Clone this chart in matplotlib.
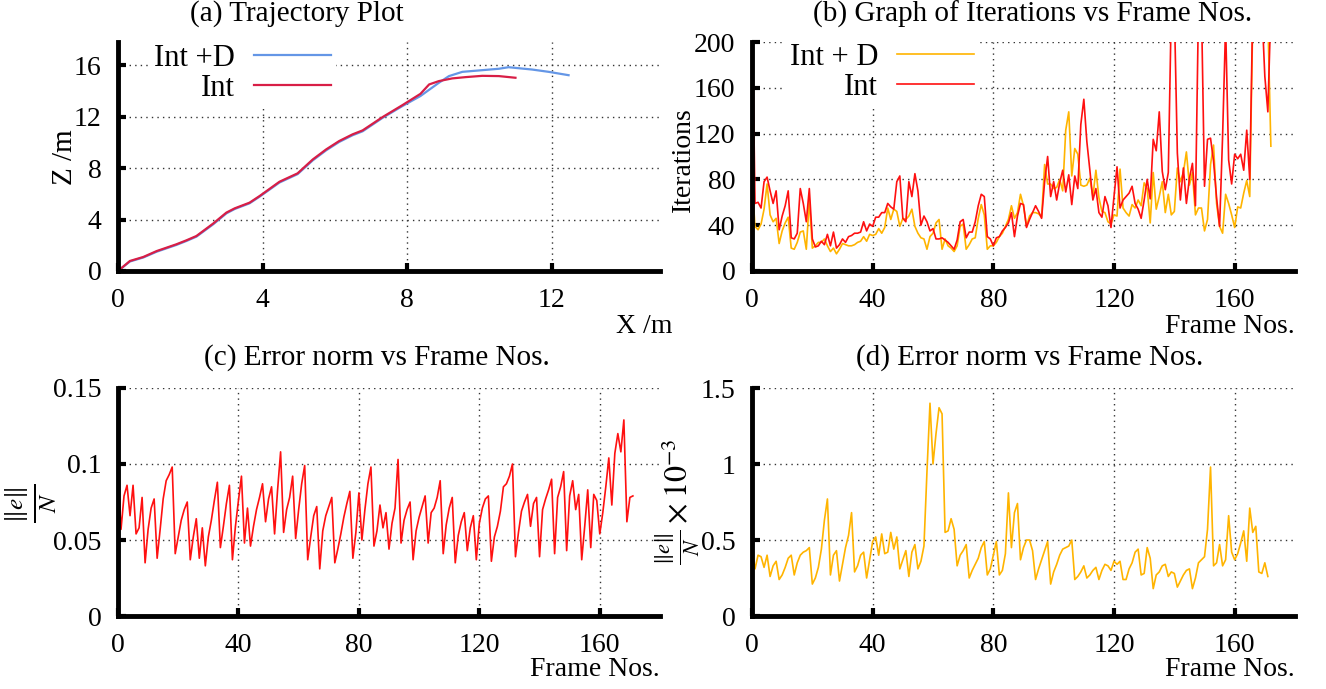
import numpy as np
import matplotlib
matplotlib.use("Agg")
import matplotlib.pyplot as plt

plt.rcParams['font.family'] = ['Liberation Serif', 'DejaVu Serif']
plt.rcParams['mathtext.fontset'] = 'stix'

# (a) trajectory, X and Z in metres
int_x = [0, 0.33, 0.70, 1.07, 1.61, 1.89, 2.17, 2.63, 3.0, 3.23, 3.64, 3.92, 4.47, 4.97,
         5.39, 5.76, 6.12, 6.49, 6.77, 7.32, 7.87, 8.37, 8.61, 8.88, 9.25, 9.62, 10.08,
         10.54, 11.0]
int_z = [0, 0.78, 1.09, 1.55, 2.07, 2.38, 2.72, 3.68, 4.54, 4.87, 5.31, 5.83, 6.94, 7.59,
         8.67, 9.45, 10.1, 10.62, 10.93, 11.96, 12.89, 13.77, 14.5, 14.76, 14.97, 15.07,
         15.17, 15.15, 15.02]
intd_x = [0, 0.33, 0.70, 1.07, 1.61, 1.89, 2.17, 2.63, 3.0, 3.23, 3.64, 3.92, 4.47, 4.97,
          5.39, 5.76, 6.12, 6.49, 6.77, 7.32, 7.87, 8.37, 8.88, 9.16, 9.53, 10.08, 10.54,
          10.81, 11.46, 11.92, 12.47]
intd_z = [0, 0.74, 1.05, 1.5, 2.02, 2.33, 2.67, 3.62, 4.48, 4.82, 5.26, 5.78, 6.88, 7.53,
          8.6, 9.38, 10.03, 10.55, 10.86, 11.9, 12.82, 13.6, 14.63, 15.15, 15.48, 15.61,
          15.72, 15.84, 15.66, 15.48, 15.22]

# (b) iterations per frame
iter_intd = [78, 39, 36, 41, 54, 76, 49, 43, 46, 24, 35, 42, 47, 20, 19, 25, 34, 35, 19, 62,
             20, 22, 25, 25, 28, 22, 17, 20, 15, 19, 24, 23, 22, 22, 23, 25, 26, 30, 26, 32,
             31, 32, 37, 33, 38, 55, 45, 54, 52, 39, 46, 45, 48, 54, 39, 33, 29, 28, 19, 30,
             33, 42, 45, 19, 28, 22, 20, 17, 22, 39, 41, 19, 23, 28, 29, 46, 58, 49, 19, 22,
             22, 25, 30, 33, 39, 45, 57,
             46, 51, 67, 57, 39, 48, 51, 51, 50, 47, 93, 76, 76, 72, 73, 80, 70, 123, 139, 83,
             107, 102, 75, 74, 75, 81, 65, 88, 64, 52, 51, 43, 41, 49, 48, 89, 55, 51, 48, 58,
             55, 62, 57, 77, 72, 42, 86, 54, 65, 78, 51, 67, 49, 52, 90, 78, 86, 104, 75, 86,
             49, 55, 55, 35, 45, 93, 110, 59, 39, 33, 67, 59, 49, 38, 56, 55, 68, 79, 65, 220,
             220, 220, 220, 220, 220, 109]
iter_int = [240, 59, 60, 55, 78, 82, 70, 59, 70, 36, 48, 57, 70, 29, 28, 33, 72, 59, 43, 72,
            28, 21, 22, 26, 23, 32, 22, 34, 20, 23, 28, 25, 30, 31, 33, 33, 34, 43, 35, 41,
            39, 47, 47, 51, 51, 59, 56, 54, 78, 83, 46, 43, 78, 65, 85, 70, 40, 48, 43, 35,
            37, 28, 28, 29, 27, 25, 22, 19, 27, 43, 45, 29, 34, 34, 43, 57, 67, 65, 30, 28,
            22, 29, 30, 35, 38, 42, 51,
            30, 48, 59, 58, 38, 45, 51, 57, 52, 46, 78, 100, 65, 78, 62, 77, 88, 69, 84, 58,
            83, 72, 128, 150, 113, 88, 62, 72, 51, 47, 65, 57, 38, 65, 91, 55, 62, 65, 68, 74,
            59, 54, 46, 62, 80, 63, 115, 105, 139, 87, 71, 86, 230, 230, 103, 62, 90, 59, 81, 94,
            57, 230, 230, 74, 115, 116, 96, 64, 39, 118, 215, 97, 76, 102, 98, 102, 88, 123, 80, 230,
            230, 230, 230, 170, 139, 230]

# (c) error norm, Int
err_int = [0.092, 0.057, 0.079, 0.086, 0.066, 0.086, 0.054, 0.058, 0.078, 0.035,
           0.057, 0.071, 0.077, 0.038, 0.057, 0.077, 0.089, 0.093, 0.098, 0.041,
           0.052, 0.063, 0.070, 0.075, 0.037, 0.052, 0.064, 0.038, 0.058, 0.033,
           0.052, 0.063, 0.076, 0.088, 0.045, 0.059, 0.074, 0.086, 0.037, 0.059,
           0.076, 0.092, 0.048, 0.071, 0.046, 0.059, 0.070, 0.078, 0.087, 0.062,
           0.077, 0.085, 0.054, 0.083, 0.108, 0.055, 0.070, 0.078, 0.092, 0.051,
           0.070, 0.087, 0.099, 0.037, 0.052, 0.066, 0.072, 0.031, 0.056, 0.066,
           0.072, 0.078, 0.035, 0.044, 0.054, 0.065, 0.074, 0.082, 0.038, 0.055,
           0.081, 0.050, 0.070, 0.087, 0.098, 0.046,
           0.056, 0.073, 0.058, 0.068, 0.044, 0.061, 0.071, 0.103, 0.048, 0.063,
           0.070, 0.075, 0.037, 0.056, 0.065, 0.072, 0.079, 0.048, 0.068, 0.071,
           0.078, 0.089, 0.041, 0.060, 0.071, 0.078, 0.035, 0.053, 0.062, 0.068,
           0.043, 0.058, 0.066, 0.037, 0.061, 0.071, 0.077, 0.079, 0.036, 0.052,
           0.059, 0.069, 0.085, 0.087, 0.092, 0.100, 0.039, 0.055, 0.069, 0.075,
           0.080, 0.059, 0.074, 0.078, 0.039, 0.070, 0.077, 0.083, 0.090, 0.041,
           0.078, 0.085, 0.095, 0.043, 0.079, 0.089, 0.070, 0.080, 0.037, 0.059,
           0.083, 0.045, 0.080, 0.076, 0.054, 0.068, 0.085, 0.104, 0.073, 0.107,
           0.120, 0.108, 0.129, 0.062, 0.078, 0.079]

# (d) error norm, Int + D (x 1e-3)
err_intd = [0.43, 0.31, 0.40, 0.39, 0.32, 0.40, 0.26, 0.33, 0.36, 0.24,
            0.27, 0.32, 0.38, 0.40, 0.27, 0.35, 0.40, 0.42, 0.43, 0.45,
            0.21, 0.25, 0.32, 0.44, 0.63, 0.77, 0.27, 0.40, 0.43, 0.23,
            0.34, 0.45, 0.53, 0.68, 0.29, 0.33, 0.40, 0.42, 0.25, 0.37,
            0.49, 0.52, 0.40, 0.54, 0.41, 0.42, 0.55, 0.44, 0.52, 0.31,
            0.37, 0.43, 0.26, 0.42, 0.47, 0.31, 0.36, 0.46, 0.95, 1.40,
            1.00, 1.20, 1.37, 1.33, 0.55, 0.56, 0.64, 0.57, 0.33, 0.40,
            0.43, 0.47, 0.25, 0.30, 0.34, 0.38, 0.45, 0.49, 0.27, 0.31,
            0.40, 0.49, 0.27, 0.30, 0.41, 0.81, 0.45, 0.68, 0.74,
            0.37, 0.45, 0.50, 0.50, 0.43, 0.24, 0.31, 0.37, 0.43, 0.49,
            0.21, 0.29, 0.34, 0.40, 0.44, 0.45, 0.46, 0.50, 0.24, 0.26,
            0.29, 0.33, 0.25, 0.27, 0.30, 0.32, 0.24, 0.30, 0.34, 0.33,
            0.30, 0.36, 0.34, 0.36, 0.24, 0.24, 0.31, 0.35, 0.42, 0.44,
            0.27, 0.28, 0.45, 0.38, 0.18, 0.27, 0.29, 0.33, 0.34, 0.26,
            0.29, 0.28, 0.19, 0.23, 0.27, 0.30, 0.31, 0.18, 0.25, 0.35,
            0.37, 0.39, 0.57, 0.98, 0.33, 0.35, 0.47, 0.33, 0.37, 0.66,
            0.42, 0.37, 0.41, 0.48, 0.56, 0.36, 0.71, 0.55, 0.59, 0.29,
            0.28, 0.35, 0.26]

W, H = 1326, 689
BLUE = '#6496e6'
CRIMSON = '#d81e46'
RED = '#ff1010'
GOLD = '#ffb400'


# Axes from pixel box (left, top, right, bottom)
def make_axes(fig, box):
    l, t, r, b = box
    ax = fig.add_axes([l / W, 1 - b / H, (r - l) / W, (b - t) / H])
    for side in ['top', 'right']:
        ax.spines[side].set_visible(False)
    for side in ['left', 'bottom']:
        ax.spines[side].set_linewidth(3.5)
    ax.tick_params(direction='in', length=6, width=3, labelsize=20, pad=12)
    ax.grid(True, color='#333333', linestyle=(0, (1, 3)), linewidth=1)
    ax.set_axisbelow(True)
    return ax


def legend(ax, anchor):
    leg = ax.legend(loc='upper right', bbox_to_anchor=anchor, bbox_transform=plt.gcf().transFigure,
                    markerfirst=False, frameon=True, fontsize=22, handlelength=2.55,
                    handletextpad=0.6, borderpad=0.15, labelspacing=0.05, borderaxespad=0,
                    fancybox=False)
    leg.get_frame().set_edgecolor('none')
    leg.get_frame().set_facecolor('white')
    leg.get_frame().set_alpha(1)
    return leg


fig = plt.figure(figsize=(W / 100, H / 100), dpi=100)

# (a)
ax = make_axes(fig, (118, 42, 660, 271))
ax.plot(intd_x, intd_z, color=BLUE, lw=1.6, label='Int +D')
ax.plot(int_x, int_z, color=CRIMSON, lw=1.6, label='Int')
ax.set_xlim(0, 15)
ax.set_ylim(0, 17.8)
ax.set_xticks([0, 4, 8, 12])
ax.set_yticks([0, 4, 8, 12, 16])
legend(ax, (336 / W, 1 - 39 / H))
fig.text(297 / W, 1 - 14 / H, '(a) Trajectory Plot', ha='center', va='center', fontsize=21)
fig.text(672 / W, 1 - 326 / H, 'X /m', ha='right', va='center', fontsize=20)
fig.text(65 / W, 1 - 157 / H, 'Z /m', ha='center', va='center', rotation=90, fontsize=21)

# (b)
frames_b = np.arange(len(iter_int))
ax = make_axes(fig, (752, 42, 1295, 271))
ax.plot(np.arange(len(iter_intd)), iter_intd, color=GOLD, lw=1.2, label='Int + D')
ax.plot(frames_b, iter_int, color=RED, lw=1.2, label='Int')
ax.set_xlim(0, 180)
ax.set_ylim(0, 200)
ax.set_xticks([0, 40, 80, 120, 160])
ax.set_yticks([0, 40, 80, 120, 160, 200])
legend(ax, (979 / W, 1 - 38 / H))
fig.text(1033 / W, 1 - 14 / H, '(b) Graph of Iterations vs Frame Nos.', ha='center', va='center', fontsize=21)
fig.text(1295 / W, 1 - 326 / H, 'Frame Nos.', ha='right', va='center', fontsize=20)
fig.text(683 / W, 1 - 160 / H, 'Iterations', ha='center', va='center', rotation=90, fontsize=20)

# (c)
ax = make_axes(fig, (118, 388, 660, 616))
ax.plot(np.arange(len(err_int)), err_int, color=RED, lw=1.2)
ax.set_xlim(0, 180)
ax.set_ylim(0, 0.15)
ax.set_xticks([0, 40, 80, 120, 160])
ax.set_yticks([0, 0.05, 0.1, 0.15])
ax.set_yticklabels(['0', '0.05', '0.1', '0.15'])
fig.text(377 / W, 1 - 358 / H, '(c) Error norm vs Frame Nos.', ha='center', va='center', fontsize=21)
fig.text(660 / W, 1 - 670 / H, 'Frame Nos.', ha='right', va='center', fontsize=20)
fig.text(31 / W, 1 - 503 / H, r'$\frac{\|e\|}{N}$', ha='center', va='center', rotation=90, fontsize=26)

# (d)
ax = make_axes(fig, (752, 388, 1295, 616))
ax.plot(np.arange(len(err_intd)), err_intd, color=GOLD, lw=1.2)
ax.set_xlim(0, 180)
ax.set_ylim(0, 1.5)
ax.set_xticks([0, 40, 80, 120, 160])
ax.set_yticks([0, 0.5, 1, 1.5])
ax.set_yticklabels(['0', '0.5', '1', '1.5'])
fig.text(1030 / W, 1 - 358 / H, '(d) Error norm vs Frame Nos.', ha='center', va='center', fontsize=21)
fig.text(1295 / W, 1 - 670 / H, 'Frame Nos.', ha='right', va='center', fontsize=20)
fig.text(678 / W, 1 - 502 / H, r'$\frac{\|e\|}{N}\times10^{-3}$', ha='center', va='center',
         rotation=90, fontsize=23)

fig.savefig('out.png', dpi=100)
